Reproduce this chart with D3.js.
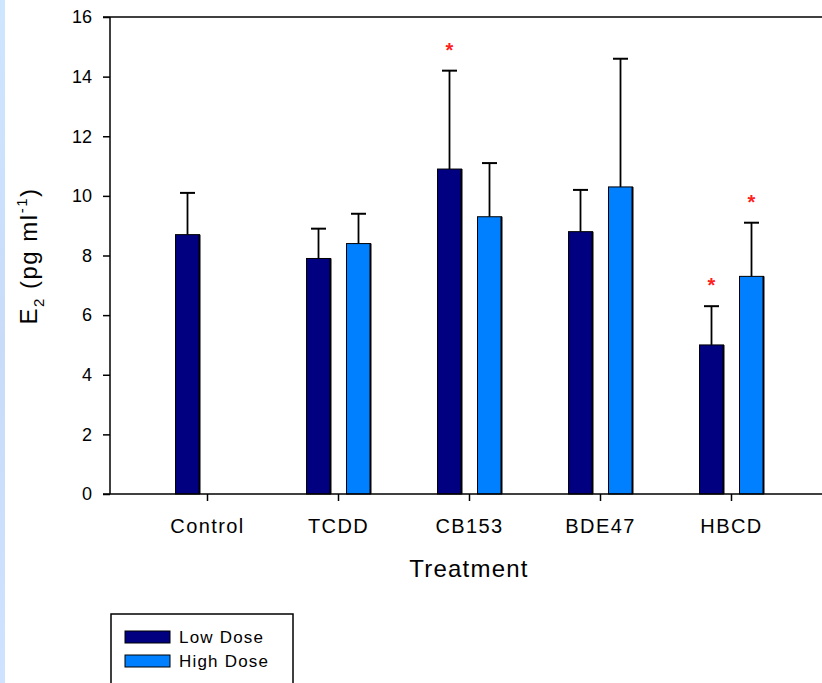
<!DOCTYPE html>
<html>
<head>
<meta charset="utf-8">
<script src="https://cdn.jsdelivr.net/npm/d3@7"></script>
<style>
  body { margin: 0; background: #fff; }
  svg { display: block; font-family: Arial, "Liberation Sans", sans-serif; }
</style>
</head>
<body>
<svg id="chart"></svg>
<script>
const categories = ["Control", "TCDD", "CB153", "BDE47", "HBCD"];
const series = ["Low Dose", "High Dose"];
const lowMean = [8.7, 7.9, 10.9, 8.8, 5.0];
const lowErr = [10.1, 8.9, 14.2, 10.2, 6.3];
const highMean = [null, 8.4, 9.3, 10.3, 7.3];
const highErr = [null, 9.4, 11.1, 14.6, 9.1];
const lowSig = [false, false, true, false, true];
const highSig = [false, false, false, false, true];
const yTicks = [0, 2, 4, 6, 8, 10, 12, 14, 16];

const colors = ["#000080", "#0080ff"];
const font = "Arial, 'Liberation Sans', sans-serif";

let width = 822,
  height = 683;

let svg = d3.select("#chart").attr("width", width).attr("height", height);

// light blue strip on the left
let grad = svg.append("defs").append("linearGradient")
  .attr("id", "strip").attr("x1", 0).attr("x2", 0).attr("y1", 0).attr("y2", 1);
grad.append("stop").attr("offset", "0%").attr("stop-color", "#cfe6ff");
grad.append("stop").attr("offset", "50%").attr("stop-color", "#c8dcfa");
grad.append("stop").attr("offset", "100%").attr("stop-color", "#cfe2ff");
svg.append("rect").attr("x", 0).attr("y", 0).attr("width", 5).attr("height", height)
  .attr("fill", "url(#strip)");

const pLeft = 110, pTop = 17, pBottom = 494, pRight = 822;

let x = d3.scaleBand().domain(categories).range([142, 797]).padding(0);
let y = d3.scaleLinear().domain([0, 16]).range([pBottom, pTop]);

const barW = 24, off = 20;

// rows of bar data
const rows = [];
categories.forEach((c, i) => {
  rows.push({ cat: c, s: 0, v: lowMean[i], e: lowErr[i], sig: lowSig[i] });
  if (highMean[i] != null)
    rows.push({ cat: c, s: 1, v: highMean[i], e: highErr[i], sig: highSig[i] });
});
const cx = (d) => x(d.cat) + x.bandwidth() / 2 + (d.s == 0 ? -off : off);

// error bars
let eb = svg.append("g").attr("stroke", "#000");
eb.selectAll("line.v").data(rows).enter().append("line")
  .attr("x1", cx).attr("x2", cx)
  .attr("y1", (d) => y(d.v)).attr("y2", (d) => y(d.e))
  .attr("stroke-width", 1.8);
eb.selectAll("line.c").data(rows).enter().append("line")
  .attr("x1", (d) => cx(d) - 7.5).attr("x2", (d) => cx(d) + 7.5)
  .attr("y1", (d) => y(d.e)).attr("y2", (d) => y(d.e))
  .attr("stroke-width", 2);

// bars
svg.append("g").selectAll("rect").data(rows).enter().append("rect")
  .attr("x", (d) => cx(d) - barW / 2)
  .attr("y", (d) => y(d.v))
  .attr("width", barW)
  .attr("height", (d) => y(0) - y(d.v))
  .attr("fill", (d) => colors[d.s])
  .attr("stroke", "#000")
  .attr("stroke-width", 1);
// darker right edge
svg.append("g").selectAll("line").data(rows).enter().append("line")
  .attr("x1", (d) => cx(d) + barW / 2).attr("x2", (d) => cx(d) + barW / 2)
  .attr("y1", (d) => y(d.v)).attr("y2", y(0))
  .attr("stroke", "#000").attr("stroke-width", 2);

// significance stars
svg.append("g").selectAll("text").data(rows.filter((d) => d.sig)).enter().append("text")
  .attr("x", cx)
  .attr("y", (d) => y(d.e) - 14)
  .attr("text-anchor", "middle")
  .attr("fill", "#ff2020")
  .style("font-size", "20px")
  .style("font-weight", "bold")
  .text("*");

// y axis
let yAxis = d3.axisLeft(y).tickValues(yTicks).tickSize(7).tickPadding(11);
let gy = svg.append("g").attr("transform", `translate(${pLeft},0)`).call(yAxis);
gy.select(".domain").attr("d", `M0,${pTop}V${pBottom}`).attr("stroke-width", 1.5);
gy.selectAll(".tick line").attr("stroke-width", 1.5);
gy.selectAll("text").style("font-size", "18px").style("font-family", font).attr("fill", "#000");

// top line
svg.append("line").attr("x1", pLeft - 7).attr("x2", pRight)
  .attr("y1", pTop).attr("y2", pTop).attr("stroke", "#000").attr("stroke-width", 1.5);

// x axis
let xAxis = d3.axisBottom(x).tickSize(7).tickPadding(18);
let gx = svg.append("g").attr("transform", `translate(0,${pBottom})`).call(xAxis);
gx.select(".domain").attr("d", `M${pLeft - 7},0H${pRight}`).attr("stroke-width", 1.5);
gx.selectAll(".tick line").attr("stroke-width", 1.5);
gx.selectAll("text").style("font-size", "20px").style("font-family", font)
  .style("letter-spacing", "1.4px").attr("fill", "#000");

// axis titles
svg.append("text").attr("x", 469).attr("y", 577).attr("text-anchor", "middle")
  .style("font-size", "24px").style("letter-spacing", "1.2px").text("Treatment");

let yt = svg.append("text").attr("transform", "translate(37,256) rotate(-90)")
  .attr("text-anchor", "middle").style("font-size", "24px").style("letter-spacing", "1.5px");
yt.append("tspan").text("E");
yt.append("tspan").style("font-size", "15px").attr("dy", 7).text("2");
yt.append("tspan").attr("dy", -7).text(" (pg ml");
yt.append("tspan").style("font-size", "15px").attr("dy", -10).text("-1");
yt.append("tspan").attr("dy", 10).text(")");

// legend
let lg = svg.append("g");
lg.append("rect").attr("x", 111).attr("y", 614).attr("width", 182).attr("height", 90)
  .attr("fill", "#fff").attr("stroke", "#000").attr("stroke-width", 1.5);
let items = lg.selectAll("g.item").data(series).enter().append("g")
  .attr("transform", (d, i) => `translate(125,${631 + i * 24})`);
items.append("rect").attr("width", 45).attr("height", 12)
  .attr("fill", (d, i) => colors[i]).attr("stroke", "#000").attr("stroke-width", 1);
items.append("text").attr("x", 54).attr("y", 12)
  .style("font-size", "17px").style("letter-spacing", "1.2px").text((d) => d);
</script>
</body>
</html>
